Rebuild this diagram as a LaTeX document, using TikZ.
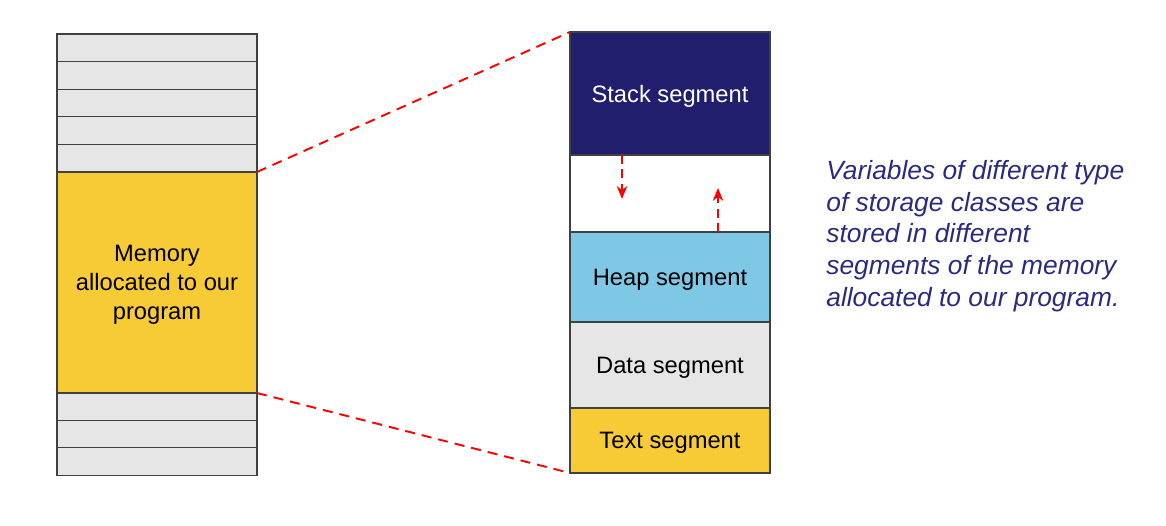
\documentclass[tikz,border=0pt]{standalone}
\usepackage{fontspec}
\setmainfont{Liberation Sans}
\usepackage{xcolor}
\usetikzlibrary{arrows.meta,positioning}
\definecolor{cellgrey}{RGB}{230,230,230}
\definecolor{memyellow}{RGB}{247,203,53}
\definecolor{stacknavy}{RGB}{33,30,110}
\definecolor{heapblue}{RGB}{126,200,230}
\definecolor{notenavy}{RGB}{42,42,128}

\begin{document}
\begin{tikzpicture}[
  cell/.style={draw=black!75, line width=0.6pt, fill=cellgrey, minimum width=4cm,
    inner sep=0pt, outer sep=0pt, anchor=north west, text depth=0pt,
    font=\fontsize{13.5}{16.4}\selectfont, align=center},
  seg/.style={cell, anchor=north},
  zoomline/.style={red, line width=1.1pt, dash pattern=on 0.2cm off 0.14cm},
  growarrow/.style={red, line width=0.9pt, dash pattern=on 0.18cm off 0.11cm, -{Stealth[length=2.6mm,width=2.1mm]}}
]
\useasboundingbox (0,0) rectangle (23.32,10.5);

% memory on the left
\foreach \i in {1,...,5}
  \node[cell, minimum height=0.552cm] (top\i) at (1.14,{9.82-(\i-1)*0.552}) {};
\node[cell, fill=memyellow, minimum height=4.42cm] (mem) at (1.14,7.06)
  {Memory\\allocated to our\\program};
\foreach \i in {1,...,3}
  \node[cell, minimum height=0.547cm] (bot\i) at (1.14,{2.64-(\i-1)*0.547}) {};

% segments of our program
\node[seg, fill=stacknavy, text=white, minimum height=2.46cm] (stack) at (13.4,9.86) {Stack segment};
\node[seg, fill=white, minimum height=1.54cm, below=0pt of stack] (free) {};
\node[seg, fill=heapblue, minimum height=1.8cm, below=0pt of free] (heap) {Heap segment};
\node[seg, minimum height=1.72cm, below=0pt of heap] (data) {Data segment};
\node[seg, fill=memyellow, minimum height=1.3cm, below=0pt of data] (textseg) {Text segment};

% zoom lines
\draw[zoomline] (mem.north east) -- (stack.north west);
\draw[zoomline] (mem.south east) -- (textseg.south west);

% stack and heap growth
\draw[growarrow] ([xshift=1.04cm]stack.south west) -- ++(0,-0.88);
\draw[growarrow] ([xshift=2.96cm]heap.north west) -- ++(0,0.88);

\node[anchor=west, align=left, inner sep=0pt, text=notenavy,
  font=\fontsize{15}{18.1}\selectfont\itshape] (note) at (16.52,5.78)
  {Variables of different type\\of storage classes are\\stored in different\\segments of the memory\\allocated to our program.};
\end{tikzpicture}
\end{document}
